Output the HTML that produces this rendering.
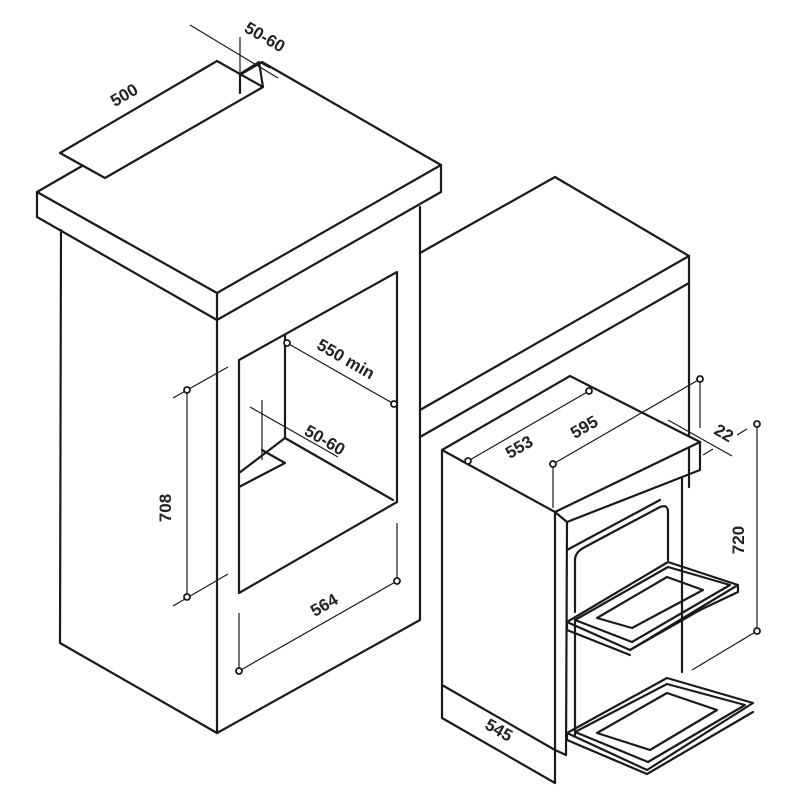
<!DOCTYPE html>
<html><head><meta charset="utf-8"><style>
html,body{margin:0;padding:0;background:#fff;}
svg{display:block;}
text{font-family:"Liberation Sans",sans-serif;font-weight:bold;font-size:17px;fill:#222;}
</style></head><body>
<svg width="800" height="800" viewBox="0 0 800 800" xmlns="http://www.w3.org/2000/svg">
<g fill="none" stroke="#1a1a1a" stroke-width="2.2" stroke-linejoin="round" stroke-linecap="round">
<!-- back cabinet -->
<polyline points="420,253 555,177 689,256 689,487"/>
<line x1="420" y1="410" x2="689" y2="256"/>
<line x1="420" y1="437" x2="689" y2="283"/>
<!-- countertop -->
<polygon points="37,192 262,62 441,165 217,293"/>
<polyline points="37,192 37,217 217,320 441,192 441,165"/>
<line x1="217" y1="293" x2="217" y2="320"/>
<!-- hob cutout -->
<polygon points="60,153 217,61 263,87 105,178" fill="#fff"/>
<polyline points="240,93 240,74 259,62 263,87"/>
<!-- cabinet 1 -->
<polyline points="61,230 60,643 217,733 420,620 420,207"/>
<line x1="217" y1="320" x2="217" y2="733"/>
<!-- opening -->
<polygon points="239,360 397,272 397,502 239,593"/>
<polyline points="285,335 285,438 393,500"/>
<polyline points="239,473 285,438"/>
<polyline points="262,450 285,463 239,487"/>
<!-- oven -->
<polygon points="442,450 570,376 700,442 555,512" fill="#fff"/>
<polyline points="442,450 442,718 555,783 555,512"/>
<polyline points="700,442 700,470 567,522 555,512"/>
<line x1="567" y1="522" x2="566" y2="755"/>
<line x1="566" y1="755" x2="555" y2="750"/>
<line x1="442" y1="685" x2="555" y2="750"/>
<line x1="567" y1="550" x2="660" y2="500"/>
<line x1="682" y1="478" x2="682" y2="672"/>
<path d="M575,612 L575,560 Q575,552 585,547 L660,507 Q668,504 668,512 L668,560"/>
<line x1="575" y1="620" x2="575" y2="735"/>
<!-- upper tray -->
<polygon points="567,622 668,562 738,585 630,650"/>
<polygon points="575,620 668,567 730,585 632,642"/>
<polygon points="597,618 667,577 703,590 632,628"/>
<polyline points="630,650 700,610 738,592 738,585"/>
<line x1="567" y1="622" x2="567" y2="630"/>
<line x1="567" y1="630" x2="630" y2="655"/>
<!-- lower tray -->
<polygon points="567,733 667,678 753,703 647,770"/>
<polygon points="575,732 667,684 745,705 648,762"/>
<polygon points="597,733 667,693 717,710 650,750"/>
<line x1="567" y1="733" x2="567" y2="740"/>
<line x1="567" y1="740" x2="647" y2="774"/>
<line x1="647" y1="774" x2="753" y2="712"/>
</g>
<g fill="none" stroke="#1a1a1a" stroke-width="1.2">
<line x1="190" y1="25" x2="278" y2="78"/>
<line x1="240" y1="37" x2="240" y2="74"/>
<line x1="259" y1="62" x2="270" y2="68"/>
<line x1="287" y1="343" x2="394" y2="404"/>
<line x1="250" y1="407" x2="338" y2="457"/>
<line x1="262" y1="400" x2="262" y2="460"/>
<line x1="187" y1="390" x2="187" y2="597"/>
<line x1="173" y1="398" x2="228" y2="367"/>
<line x1="173" y1="606" x2="228" y2="574"/>
<line x1="239" y1="613" x2="239" y2="671"/>
<line x1="397" y1="523" x2="397" y2="581"/>
<line x1="239" y1="671" x2="397" y2="581"/>
<line x1="468" y1="461" x2="589" y2="391"/>
<line x1="553" y1="464" x2="700" y2="379"/>
<line x1="553" y1="464" x2="553" y2="508"/>
<line x1="700" y1="379" x2="700" y2="428"/>
<line x1="668" y1="420" x2="732" y2="456"/>
<line x1="703" y1="455" x2="713" y2="449"/>
<line x1="757" y1="424" x2="757" y2="631"/>
<line x1="737" y1="435" x2="747" y2="429"/>
<line x1="692" y1="670" x2="757" y2="631"/>
</g>
<g fill="#fff" stroke="#1a1a1a" stroke-width="1.8">
<circle cx="287" cy="343" r="3"/><circle cx="394" cy="404" r="3"/>
<circle cx="187" cy="390" r="3"/><circle cx="187" cy="597" r="3"/>
<circle cx="239" cy="671" r="3"/><circle cx="397" cy="581" r="3"/>
<circle cx="468" cy="461" r="3"/><circle cx="589" cy="391" r="3"/>
<circle cx="553" cy="464" r="3"/><circle cx="700" cy="379" r="3"/>
<circle cx="757" cy="424" r="3"/><circle cx="757" cy="631" r="3"/>
</g>
<g text-anchor="middle">
<text transform="translate(127,100) rotate(-30)">500</text>
<text transform="translate(262,42) rotate(30)">50-60</text>
<text transform="translate(343,364) rotate(30)">550 min</text>
<text transform="translate(322,445) rotate(30)">50-60</text>
<text transform="translate(171,508) rotate(-90)">708</text>
<text transform="translate(327,610) rotate(-30)">564</text>
<text transform="translate(522,452) rotate(-30)">553</text>
<text transform="translate(587,432) rotate(-30)">595</text>
<text transform="translate(721,438) rotate(30)">22</text>
<text transform="translate(744,540) rotate(-90)">720</text>
<text transform="translate(496,735) rotate(30)">545</text>
</g>
</svg>
</body></html>
